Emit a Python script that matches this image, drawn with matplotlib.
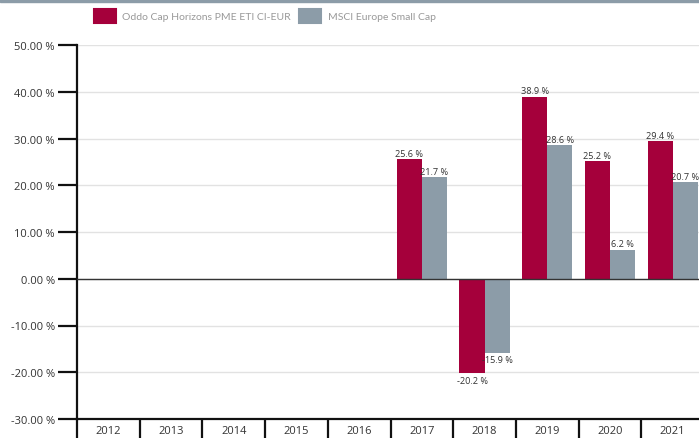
import numpy as np
import matplotlib
matplotlib.use('Agg')
import matplotlib.pyplot as plt
from matplotlib.patches import Patch, Rectangle

years = ['2012', '2013', '2014', '2015', '2016', '2017', '2018', '2019', '2020', '2021']
fund = [np.nan, np.nan, np.nan, np.nan, np.nan, 25.6, -20.2, 38.9, 25.2, 29.4]
index = [np.nan, np.nan, np.nan, np.nan, np.nan, 21.7, -15.9, 28.6, 6.2, 20.7]
series_names = ['Oddo Cap Horizons PME ETI CI-EUR', 'MSCI Europe Small Cap']
yticks = [-30, -20, -10, 0, 10, 20, 30, 40, 50]

RED = '#a5003b'
GREY = '#8c9ca8'

plt.rcParams['font.family'] = ['Open Sans', 'DejaVu Sans']

fig = plt.figure(figsize=(6.99, 4.39), dpi=100)
# thin band along the top edge
fig.patches.append(Rectangle((0, 1 - 3 / 439), 1, 3 / 439, transform=fig.transFigure,
                             color=GREY, zorder=5))

ax = fig.add_axes([77 / 699, 1 - 420 / 439, 627 / 699, 374 / 439])
x = np.arange(len(years))
w = 0.4
b1 = ax.bar(x - w / 2, fund, w, color=RED, zorder=3)
b2 = ax.bar(x + w / 2, index, w, color=GREY, zorder=3)

# value labels
for bars, vals in ((b1, fund), (b2, index)):
    for rect, v in zip(bars, vals):
        if np.isnan(v):
            continue
        cx = rect.get_x() + rect.get_width() / 2
        va = 'bottom' if v >= 0 else 'top'
        off = 0.3 if v >= 0 else -0.5
        ax.text(cx, v + off, f'{v:.1f} %', ha='center', va=va, fontsize=6.6,
                color='#333333', zorder=4)

ax.set_xlim(-0.5, len(years) - 0.5)
ax.set_ylim(-30, 50)
ax.set_yticks(yticks)
ax.set_yticklabels([f'{t:.2f} %' for t in yticks], fontsize=8, color='#333333')
ax.tick_params(axis='y', length=14, width=1.6, color='#111111', pad=2)
ax.grid(axis='y', color='#e2e2e2', linewidth=1, zorder=0)
ax.axhline(0, color='#333333', linewidth=1, zorder=4)

# category boxes on the x axis
ax.set_xticks(np.arange(len(years) + 1) - 0.5)
ax.set_xticklabels([])
ax.tick_params(axis='x', which='major', length=19, width=1.6, color='#111111')
ax.set_xticks(x, minor=True)
ax.set_xticklabels(years, minor=True, fontsize=8, color='#333333')
ax.tick_params(axis='x', which='minor', length=0, pad=4)

for s in ['top', 'right']:
    ax.spines[s].set_visible(False)
for s in ['left', 'bottom']:
    ax.spines[s].set_color('#111111')
    ax.spines[s].set_linewidth(1.6)

handles = [Patch(facecolor=RED, edgecolor=RED, linewidth=1.5, joinstyle='round'),
           Patch(facecolor=GREY, edgecolor=GREY, linewidth=1.5, joinstyle='round')]
fig.legend(handles, series_names, loc='center', bbox_to_anchor=(0.379, 1 - 17 / 439),
           ncol=2, frameon=False, handlelength=2.1, handleheight=1.8, columnspacing=0.8,
           handletextpad=0.6, prop={'family': 'Lato', 'size': 7.5}, labelcolor='#999999')

fig.savefig('out.png', dpi=100)
